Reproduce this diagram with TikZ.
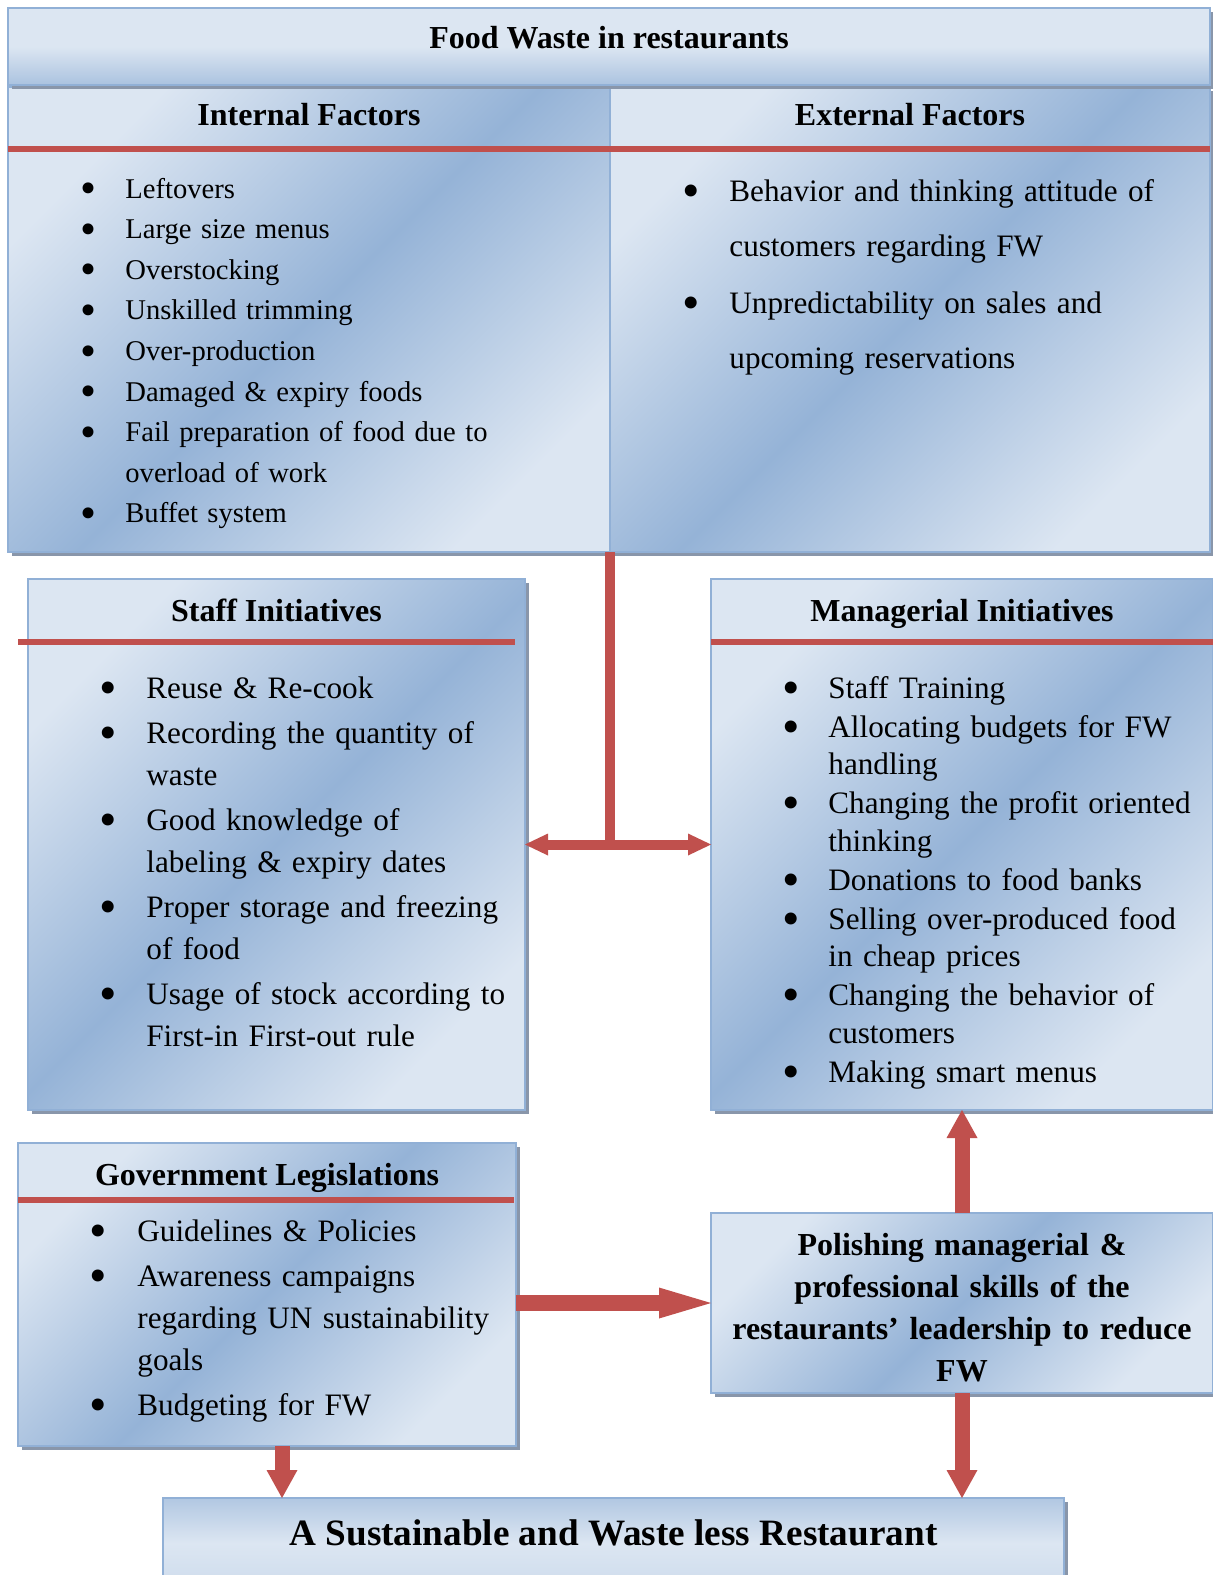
\documentclass[tikz,border=0pt]{standalone}
\usepackage{fontspec}
\setmainfont{Liberation Serif}
\usetikzlibrary{arrows.meta, shadows}

\newlength{\fwhang}
\newcommand{\fwbullet}{\raisebox{-0.2em}{\scalebox{1.6}{\textbullet}}}
\newcommand{\fwitem}[1]{\hangindent=\fwhang\hangafter=1\noindent\makebox[\fwhang][l]{\fwbullet}#1\par}

\begin{document}
\begin{tikzpicture}[x=0.5pt, y=-0.5pt,
    fwbox/.style={draw=fwedge, line width=1pt, inner sep=0pt, outer sep=0pt,
        anchor=north west, top color=fwlight, bottom color=fwlight,
        middle color=fwdark, shading angle=45,
        drop shadow={shadow xshift=2pt, shadow yshift=-2pt, fill=fwshadow, opacity=1}},
    head/.style={anchor=base, inner sep=0pt, font=\fontsize{16}{21}\selectfont\bfseries},
    itemlist/.style n args={4}{anchor=base west, inner sep=0pt, text width=250pt,
        align=left, font=\fontsize{#1}{#2}\selectfont,
        execute at begin node={\setlength{\fwhang}{#3}\setlength{\parskip}{#4}}},
    divider/.style={fwred, line width=3pt},
    linkarrow/.style={fwred, line width=5pt,
        >={Triangle[width=11pt, length=11.5pt, line width=0pt]}},
    fatarrow/.style={fwred, line width=7.5pt,
        >={Triangle[width=15.5pt, length=14pt, line width=0pt]}},
    longarrow/.style={fwred, line width=8pt,
        >={Triangle[width=15.5pt, length=26pt, line width=0pt]}},
]

    % Define colors
    \definecolor{fwlight}{RGB}{220, 230, 242}
    \definecolor{fwdark}{RGB}{149, 179, 215}
    \definecolor{fwedge}{RGB}{145, 176, 214}
    \definecolor{fwshadow}{RGB}{137, 150, 170}
    \definecolor{fwred}{RGB}{192, 80, 77}

    \useasboundingbox (0,0) rectangle (1213,1575);

    % Factor boxes
    \node[fwbox, minimum width=301pt, minimum height=232.5pt] (internal) at (8,87) {};
    \node[fwbox, minimum width=300pt, minimum height=232.5pt] (external) at (610,87) {};
    \node[fwbox, minimum width=601pt, minimum height=38.5pt, top color=fwlight,
        bottom color=fwdark!70!fwlight, middle color=fwlight, shading angle=0] (title) at (8,8) {};
    \node[head] (title-t) at ([yshift=-20pt]title.north) {Food Waste in restaurants};

    \node[head] (internal-h) at ([yshift=-19pt]internal.north) {Internal Factors};
    \node[head] (external-h) at ([yshift=-19pt]external.north) {External Factors};
    \draw[divider] ([yshift=-31pt]internal.north west) -- ([yshift=-31pt]external.north east);

    \node[itemlist={14.3}{20.3}{22.5pt}{0pt}] (internal-l) at ([shift={(36pt,-55.5pt)}]internal.north west) {%
        \fwitem{Leftovers}
        \fwitem{Large size menus}
        \fwitem{Overstocking}
        \fwitem{Unskilled trimming}
        \fwitem{Over-production}
        \fwitem{Damaged \& expiry foods}
        \fwitem{Fail preparation of food due to\newline overload of work}
        \fwitem{Buffet system}
    };
    \node[itemlist={15.6}{27.5}{23.5pt}{1pt}] (external-l) at ([shift={(36pt,-57pt)}]external.north west) {%
        \fwitem{Behavior and thinking attitude of\newline customers regarding FW}
        \fwitem{Unpredictability on sales and\newline upcoming reservations}
    };

    % Initiatives
    \node[fwbox, minimum width=248.5pt, minimum height=265.5pt] (staff) at (28,579) {};
    \node[fwbox, minimum width=251pt, minimum height=265.5pt] (manag) at (711,579) {};
    \node[head] (staff-h) at ([yshift=-21pt]staff.north) {Staff Initiatives};
    \node[head] (manag-h) at ([yshift=-21pt]manag.north) {Managerial Initiatives};
    \draw[divider] ([shift={(-5pt,-31.5pt)}]staff.north west) -- ([shift={(-5pt,-31.5pt)}]staff.north east);
    \draw[divider] ([yshift=-31.5pt]manag.north west) -- ([yshift=-31.5pt]manag.north east);

    \node[itemlist={15.6}{20.75}{23.5pt}{2pt}] (staff-l) at ([shift={(35.5pt,-59.5pt)}]staff.north west) {%
        \fwitem{Reuse \& Re-cook}
        \fwitem{Recording the quantity of\newline waste}
        \fwitem{Good knowledge of\newline labeling \& expiry dates}
        \fwitem{Proper storage and freezing\newline of food}
        \fwitem{Usage of stock according to\newline First-in First-out rule}
    };
    \node[itemlist={15.6}{18.75}{23pt}{0.75pt}] (manag-l) at ([shift={(35.5pt,-59.5pt)}]manag.north west) {%
        \fwitem{Staff Training}
        \fwitem{Allocating budgets for FW\newline handling}
        \fwitem{Changing the profit oriented\newline thinking}
        \fwitem{Donations to food banks}
        \fwitem{Selling over-produced food\newline in cheap prices}
        \fwitem{Changing the behavior of\newline customers}
        \fwitem{Making smart menus}
    };

    % Legislations and leadership
    \node[fwbox, minimum width=249pt, minimum height=151.5pt] (gov) at (18,1143) {};
    \node[head] (gov-h) at ([yshift=-21pt]gov.north) {Government Legislations};
    \draw[divider] ([yshift=-28.5pt]gov.north west) -- ([shift={(-1pt,-28.5pt)}]gov.north east);
    \node[itemlist={15.6}{21}{24pt}{1.5pt}] (gov-l) at ([shift={(35.5pt,-49pt)}]gov.north west) {%
        \fwitem{Guidelines \& Policies}
        \fwitem{Awareness campaigns\newline regarding UN sustainability\newline goals}
        \fwitem{Budgeting for FW}
    };

    \node[fwbox, minimum width=251pt, minimum height=90pt] (polish) at (711,1213) {};
    \node[head, text width=250pt, align=center] (polish-t) at ([yshift=-21pt]polish.north) {%
        Polishing managerial \&\\ professional skills of the\\ restaurants’ leadership to reduce\\ FW};

    \node[fwbox, minimum width=450.5pt, minimum height=45pt, top color=fwdark!60!fwlight,
        bottom color=fwlight!80!fwdark, middle color=fwlight, shading angle=0] (goal) at (163,1498) {};
    \node[head, font=\fontsize{18.6}{22}\selectfont\bfseries] (goal-t) at ([yshift=-23.5pt]goal.north)
        {A Sustainable and Waste less Restaurant};

    % Connectors
    \draw[fwred, line width=5pt] (internal.south east) -- (internal.south east |- staff.east);
    \draw[linkarrow, <->] (staff.east) -- (manag.west);
    \draw[longarrow, ->] (gov.east |- polish.west) -- (polish.west);
    \draw[fatarrow, ->] (polish.north) -- (manag.south);
    \draw[fatarrow, ->] (polish.south) -- (polish.south |- goal.north);
    \draw[fatarrow, ->] ([xshift=7.5pt]gov.south) -- ([xshift=7.5pt]gov.south |- goal.north);

\end{tikzpicture}
\end{document}
